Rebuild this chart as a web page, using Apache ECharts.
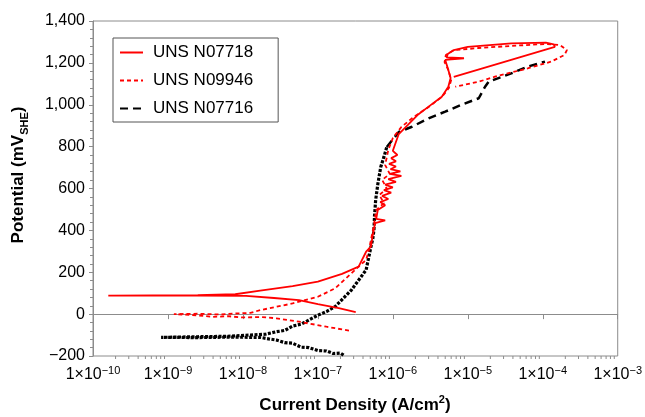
<!DOCTYPE html>
<html>
<head>
<meta charset="utf-8">
<script src="https://cdn.jsdelivr.net/npm/echarts@6/dist/echarts.min.js"></script>
<style>
html,body{margin:0;padding:0;background:#fff;}
#chart{width:645px;height:417px;}
</style>
</head>
<body>
<div id="chart"></div>
<script>
// ---- Data (current density A/cm2, potential mV_SHE) ----
const seriesNames = ['UNS N07718', 'UNS N09946', 'UNS N07716'];

const n07718_I = [3.2e-7,1.9e-7,1.0e-7,5.6e-8,2.6e-8,1.1e-8,2.5e-9,6.3e-10,1.6e-10,6.3e-10,2.5e-9,7.9e-9,1.7e-8,4.6e-8,1.0e-7,2.1e-7,3.5e-7,4.4e-7,5.1e-7,5.4e-7,5.8e-7,7.9e-7,6.0e-7,6.3e-7,7.9e-7,6.8e-7,8.7e-7,7.2e-7,9.5e-7,7.6e-7,1.0e-6,7.9e-7,1.1e-6,8.7e-7,1.3e-6,9.1e-7,1.26e-6,9.3e-7,1.1e-6,8.9e-7,1.1e-6,9.5e-7,1.15e-6,1.0e-6,1.07e-6,1.2e-6,1.6e-6,2.2e-6,3.0e-6,4.5e-6,5.5e-6,5.9e-6,5.4e-6,5.0e-6,8.9e-6,5.2e-6,5.4e-6,6.5e-6,1.0e-5,3.8e-5,1.1e-4,1.4e-4,1.45e-4,3.0e-5,6.5e-6];
const n07718_E = [10,29,48,67,77,87,88,89,88,90,91,95,112,134,155,192,227,298,322,378,435,448,455,497,520,535,550,565,580,592,605,618,632,645,660,670,682,692,705,718,730,745,760,780,810,860,905,955,991,1038,1086,1128,1176,1214,1222,1226,1242,1261,1276,1293,1297,1288,1276,1204,1133];

const n09946_I = [2.6e-7,1.3e-7,5.6e-8,2.8e-8,1.8e-8,1.0e-8,6.3e-9,4.0e-9,2.5e-9,1.2e-9,2.5e-9,5.0e-9,7.9e-9,1.26e-8,1.7e-8,4.6e-8,1.0e-7,1.7e-7,2.8e-7,4.4e-7,4.8e-7,5.1e-7,5.6e-7,6.0e-7,7.6e-7,6.6e-7,8.3e-7,7.2e-7,9.1e-7,7.9e-7,8.7e-7,1.0e-6,1.3e-6,1.9e-6,3.0e-6,4.5e-6,5.6e-6,6.0e-6,5.5e-6,4.9e-6,5.1e-6,6.6e-6,1.4e-5,3.8e-5,1.07e-4,1.7e-4,2.1e-4,1.95e-4,1.3e-4,6.3e-5,2.3e-5,1.4e-5,6.8e-6];
const n09946_E = [-79,-60,-36,-20,-14,-16,-10,-13,-6,0,2,-2,3,6,19,51,83,123,195,259,306,354,426,497,530,569,600,641,670,712,784,841,894,942,989,1037,1080,1118,1166,1204,1238,1261,1271,1281,1290,1285,1261,1238,1206,1174,1134,1110,1086];

const n07716_I = [2.2e-7,2.0e-7,1.6e-7,1.3e-7,1.0e-7,7.6e-8,6.0e-8,4.6e-8,3.6e-8,2.8e-8,2.2e-8,1.7e-8,6.3e-9,2.5e-9,8.1e-10,2.5e-9,6.3e-9,1.26e-8,2.0e-8,2.8e-8,3.6e-8,4.6e-8,6.0e-8,7.6e-8,1.0e-7,1.3e-7,1.7e-7,2.8e-7,4.4e-7,5.1e-7,5.4e-7,5.6e-7,5.7e-7,5.9e-7,6.3e-7,6.9e-7,7.6e-7,8.3e-7,1.2e-6,1.8e-6,3.0e-6,5.0e-6,8.1e-6,1.4e-5,1.7e-5,1.9e-5,3.8e-5,6.3e-5,1.07e-4];
const n07716_E = [-196,-186,-188,-176,-174,-160,-158,-139,-136,-124,-118,-111,-110,-112,-111,-108,-106,-100,-96,-84,-78,-57,-48,-28,-5,12,36,115,211,321,360,402,470,545,620,703,750,798,870,895,935,967,999,1031,1086,1110,1150,1182,1206];
const n07716_split = 37; // index where the dense low-potential part ends

const yMin = -200, yMax = 1400, yStep = 200;
const xMinExp = -10, xMaxExp = -3;

// ---- build ----
function pairs(I, E){ return I.map((v,i)=>[v, E[i]]); }
const n07716_pts = pairs(n07716_I, n07716_E);
const minorTicks = [];
for (let e = xMinExp; e < xMaxExp; e++) {
  for (let k = 2; k <= 9; k++) minorTicks.push([k * Math.pow(10, e), yMin]);
}
function fmtNum(v){
  const s = String(Math.abs(v)).replace(/\B(?=(\d{3})+(?!\d))/g, ',');
  return (v < 0 ? '\u2212' : '') + s;
}
const FONT = 'Liberation Sans, Arial, Helvetica, sans-serif';
const AXIS_GRAY = '#8c8c8c';

const chart = echarts.init(document.getElementById('chart'), null, {renderer:'canvas'});
chart.setOption({
  animation: false,
  backgroundColor: '#fff',
  textStyle: {fontFamily: FONT},
  grid: {left: 93, right: 25, top: 21, bottom: 61, show: true, borderColor: AXIS_GRAY, borderWidth: 1, backgroundColor: '#fff'},
  legend: {
    data: seriesNames,
    orient: 'vertical',
    left: 113, top: 38,
    padding: [6, 25, 5, 6],
    itemWidth: 23, itemHeight: 14, itemGap: 11,
    itemStyle: {opacity: 0},
    backgroundColor: '#fff',
    borderColor: '#555', borderWidth: 1, borderRadius: 0,
    textStyle: {fontFamily: FONT, fontSize: 17, color: '#000', lineHeight: 17, padding: [0,0,0,5]}
  },
  xAxis: {
    type: 'log', logBase: 10,
    min: Math.pow(10, xMinExp), max: Math.pow(10, xMaxExp),
    splitNumber: xMaxExp - xMinExp,
    axisLine: {show: true, lineStyle: {color: AXIS_GRAY, width: 1}},
    axisTick: {show: true, length: 5, lineStyle: {color: AXIS_GRAY}},
    splitLine: {show: false},
    axisLabel: {
      margin: 9, color: '#000',
      formatter: function(v){
        const ex = Math.round(Math.log10(v));
        return '{a|1\u00d710}{s|' + (ex < 0 ? '\u2212' : '') + Math.abs(ex) + '}';
      },
      rich: {
        a: {fontFamily: FONT, fontSize: 16, color: '#000', lineHeight: 18, verticalAlign: 'bottom'},
        s: {fontFamily: FONT, fontSize: 11, color: '#000', lineHeight: 11, verticalAlign: 'top'}
      }
    }
  },
  yAxis: {
    type: 'value', min: yMin, max: yMax, interval: yStep,
    axisLine: {show: true, lineStyle: {color: AXIS_GRAY, width: 1}},
    axisTick: {show: true, length: 4, lineStyle: {color: AXIS_GRAY}},
    minorTick: {show: true, splitNumber: 5, length: 3, lineStyle: {color: AXIS_GRAY}},
    splitLine: {show: false},
    axisLabel: {margin: 8, color: '#000', fontFamily: FONT, fontSize: 16, formatter: fmtNum}
  },
  graphic: [
    {type: 'text', x: 20, y: 175, rotation: Math.PI/2, z: 10,
     style: {text: '{a|Potential (mV}{s|SHE}{a|)}', align: 'center', verticalAlign: 'middle',
       rich: {a: {fontFamily: FONT, fontSize: 17, fontWeight: 'bold', fill: '#000', lineHeight: 20, verticalAlign: 'top'},
              s: {fontFamily: FONT, fontSize: 11, fontWeight: 'bold', fill: '#000', lineHeight: 20, verticalAlign: 'bottom'}}}},
    {type: 'text', x: 355, y: 404, z: 10,
     style: {text: '{a|Current Density (A/cm}{s|2}{a|)}', align: 'center', verticalAlign: 'middle',
       rich: {a: {fontFamily: FONT, fontSize: 17, fontWeight: 'bold', fill: '#000', lineHeight: 20, verticalAlign: 'bottom'},
              s: {fontFamily: FONT, fontSize: 11, fontWeight: 'bold', fill: '#000', lineHeight: 11, verticalAlign: 'top'}}}}
  ],
  series: [
    {name: seriesNames[0], type: 'line', data: pairs(n07718_I, n07718_E), symbol: 'none', showSymbol: false,
     lineStyle: {color: '#ff0000', width: 1.8}, itemStyle: {color: '#ff0000'}, z: 3},
    {name: seriesNames[1], type: 'line', data: pairs(n09946_I, n09946_E), symbol: 'none', showSymbol: false,
     lineStyle: {color: '#ff0000', width: 1.8, type: [4, 3]}, itemStyle: {color: '#ff0000'}, z: 3},
    {name: seriesNames[2], type: 'line', data: n07716_pts.slice(n07716_split), symbol: 'none', showSymbol: false,
     lineStyle: {color: '#000', width: 2.5, type: [8, 5]}, itemStyle: {color: '#000'}, z: 2},
    {name: seriesNames[2], type: 'line', data: n07716_pts.slice(0, n07716_split + 1), symbol: 'none', showSymbol: false,
     lineStyle: {color: '#000', width: 3.2, type: [3, 1.5]}, itemStyle: {color: '#000'}, z: 2},
    {name: 'minorTicks', type: 'custom', data: minorTicks, silent: true, clip: false, z: 5,
     encode: {x: 0, y: 1},
     renderItem: function(params, api){
       const p = api.coord([api.value(0), api.value(1)]);
       return {type: 'line', shape: {x1: p[0], y1: p[1], x2: p[0], y2: p[1] + 3},
               style: {stroke: AXIS_GRAY, lineWidth: 1}};
     }}
  ]
});
</script>
</body>
</html>
